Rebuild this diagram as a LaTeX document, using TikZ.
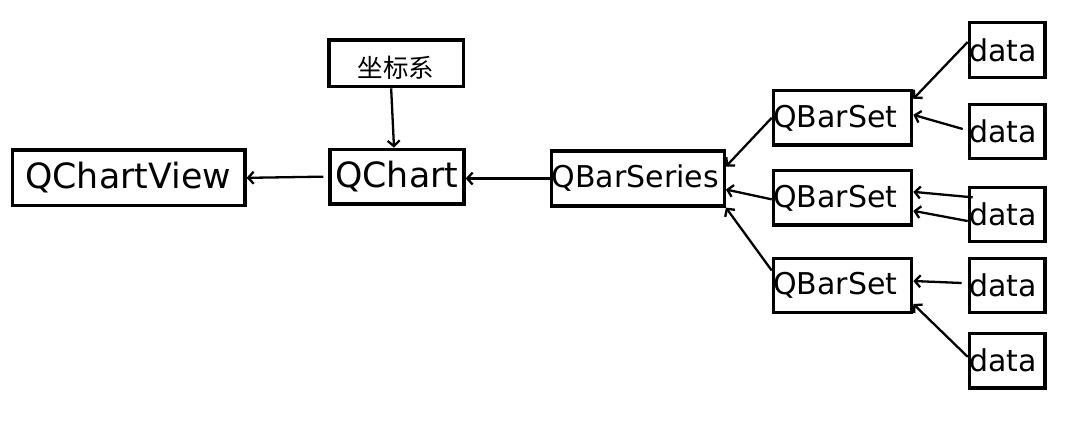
\documentclass[tikz,border=0pt]{standalone}
\usepackage{fontspec}
\setmainfont{DejaVu Sans}
\newfontfamily\cjk{Noto Sans CJK SC}
\usetikzlibrary{arrows.meta}
\tikzset{
  box/.style={draw, line width=3.2pt, outer sep=1.6pt, inner ysep=0pt, align=left},
  bigtxt/.style={font=\fontsize{34.8}{34.8}\selectfont},
  midtxt/.style={font=\fontsize{30}{30}\selectfont},
  arr/.style={line width=2.3pt, -{Straight Barb[length=5.5pt,width=12pt]}},
}
\begin{document}
\begin{tikzpicture}[x=1pt,y=-1pt]
\useasboundingbox (0,0) rectangle (1070,423);
% nodes
\node[box,bigtxt,minimum height=55.7pt,inner xsep=12.8pt,text width=206.9pt] (vw) at (128.75,177.85) {QChartView};
\node[box,bigtxt,minimum height=54.7pt,inner xsep=5.3pt,text width=123.4pt] (ch) at (397,176.65) {QChart};
\node[box,minimum width=134.3pt,minimum height=46.7pt,align=center,inner xsep=0pt,font=\cjk\fontsize{25.5}{25.5}\selectfont] (zb) at (396.15,63.35) {\raisebox{-4pt}[\height][\depth]{坐标系}};
\node[box,midtxt,minimum height=55pt,inner xsep=0pt,text width=172.6pt] (bs) at (638,178.5) {QBarSeries};
\node[box,midtxt,minimum height=54.3pt,inner xsep=0pt,text width=138.4pt] (s1) at (842.5,117.85) {QBarSet};
\node[box,midtxt,minimum height=54.3pt,inner xsep=0pt,text width=138.4pt] (s2) at (842.5,197.85) {QBarSet};
\node[box,midtxt,minimum height=54.3pt,inner xsep=0pt,text width=138.4pt] (s3) at (842.5,285.5) {QBarSet};
\node[box,midtxt,minimum height=54.5pt,inner xsep=0pt,text width=75.7pt] (d1) at (1007.15,50) {data};
\node[box,midtxt,minimum height=54.5pt,inner xsep=0pt,text width=75.7pt] (d2) at (1007.15,131.5) {data};
\node[box,midtxt,minimum height=54.5pt,inner xsep=0pt,text width=75.7pt] (d3) at (1007.15,214.35) {data};
\node[box,midtxt,minimum height=54.5pt,inner xsep=0pt,text width=75.7pt] (d4) at (1007.15,285.5) {data};
\node[box,midtxt,minimum height=54.5pt,inner xsep=0pt,text width=75.7pt] (d5) at (1007.15,360.8) {data};
% connectors
\draw[arr] ([xshift=-5pt]ch.west) -- (vw.east);
\draw[arr] (bs.west) -- (bs.west -| ch.east);
\draw[arr] ([xshift=-5pt]zb.south) -- ([xshift=-3pt]ch.north);
\draw[arr] (s1.west) -- ([yshift=12pt]bs.east);
\draw[arr] ([yshift=-1.5pt]s2.west) -- ([yshift=-11pt]bs.east);
\draw[arr] ([yshift=15pt]s3.west) -- (bs.south east);
\draw[arr] ([yshift=8pt]d1.west) -- ([yshift=19pt]s1.east);
\draw[arr] ([xshift=-5pt,yshift=2.5pt]d2.west) -- ([yshift=3pt]s1.east);
\draw[arr] ([xshift=5pt,yshift=17pt]d3.west) -- ([yshift=6pt]s2.east);
\draw[arr] ([yshift=-6.7pt]d3.west) -- ([yshift=-13pt]s2.east);
\draw[arr] ([xshift=-6pt,yshift=2.5pt]d4.west) -- ([yshift=4.5pt]s3.east);
\draw[arr] ([yshift=4pt]d5.west) -- ([yshift=-18.5pt]s3.east);
\end{tikzpicture}
\end{document}
